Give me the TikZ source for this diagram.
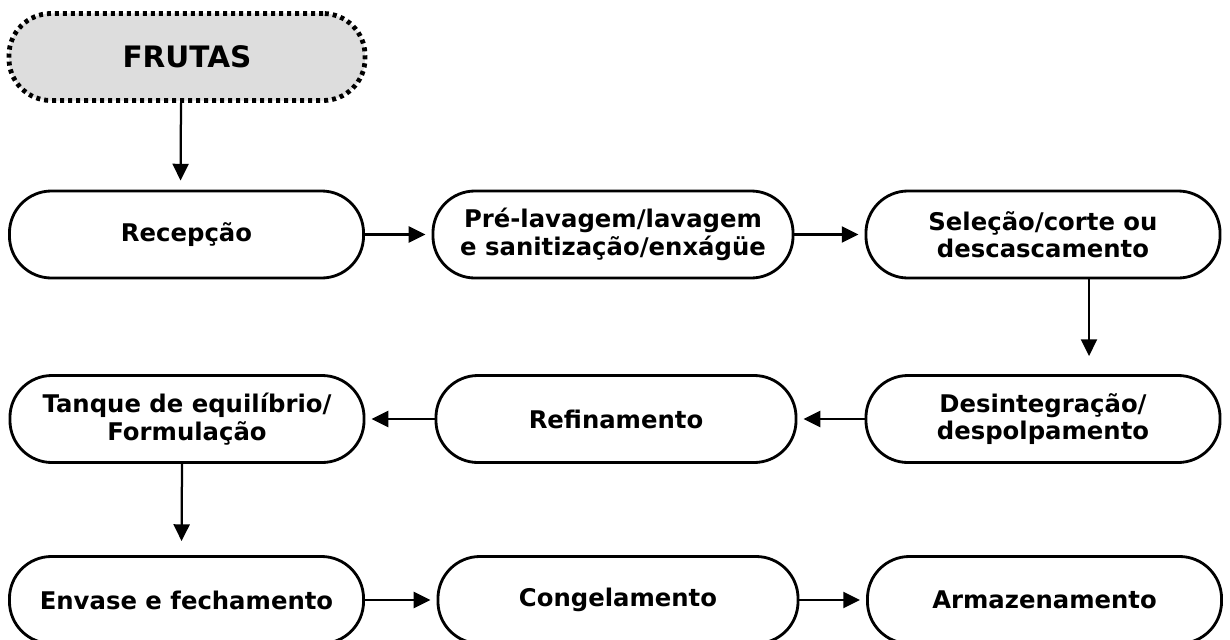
\documentclass[tikz,border=0pt]{standalone}
\usepackage{fontspec}
\setmainfont{DejaVu Sans}
\usetikzlibrary{arrows.meta, positioning}
\definecolor{frutagray}{HTML}{DDDDDD}
\tikzset{
    flowbox/.style={
        rectangle, rounded corners=1.05cm, minimum width=8.85cm, minimum height=2.175cm,
        align=center, draw=black, line width=2pt, fill=white, inner sep=2pt,
        font=\bfseries\fontsize{17.3}{19.5}\selectfont
    },
    widebox/.style={flowbox, minimum width=9.0cm},
    source/.style={
        flowbox, minimum width=8.9cm, fill=frutagray, font=\bfseries\fontsize{21}{24}\selectfont,
        line width=0.12cm, dash pattern=on 0.1cm off 0.1cm
    },
    arrow/.style={-{Triangle[length=0.42cm, width=0.4cm]}, line width=1.6pt, draw=black, shorten >=0.15cm}
}

\begin{document}
\begin{tikzpicture}[x=0.025cm, y=-0.025cm]
\useasboundingbox (0,0) rectangle (1230,639);

% === SOURCE ===
\node (frutas) [source] at (187,57) {FRUTAS};

% === ROW 1 ===
\node (recep)   [flowbox] at (186.5,234.5) {Recepção};
\node (prelav)  [widebox] at (613,234.5)   {Pré-lavagem/lavagem\\e sanitização/enxágüe};
\node (selecao) [flowbox] at (1043,234.5)  {Seleção/corte ou\\descascamento};

% === ROW 2 ===
\node (desint)  [flowbox] at (1043,419) {Desintegração/\\despolpamento};
\node (refin)   [widebox] at (616,419)  {Refinamento};
\node (tanque)  [flowbox] at (187,419)  {Tanque de equilíbrio/\\Formulação};

% === ROW 3 ===
\node (envase)  [flowbox] at (186.5,600) {Envase e fechamento};
\node (congel)  [widebox] at (618,600)   {Congelamento};
\node (armaz)   [flowbox] at (1044.5,600) {Armazenamento};

% === ARROWS ===
\draw [arrow, shorten >=0.225cm] ([xshift=-0.15cm]frutas.south) -- ([xshift=-0.15cm]recep.north);
\draw [arrow] (recep) -- (prelav);
\draw [arrow] (prelav) -- (selecao);
\draw [arrow, shorten >=0.45cm] ([xshift=1.15cm]selecao.south) -- ([xshift=1.15cm]desint.north);
\draw [arrow] (desint) -- (refin);
\draw [arrow] (refin) -- (tanque);
\draw [arrow, shorten >=0.35cm] ([xshift=-0.125cm]tanque.south) -- ([xshift=-0.125cm]envase.north);
\draw [arrow] (envase) -- (congel);
\draw [arrow] (congel) -- (armaz);

\end{tikzpicture}
\end{document}
